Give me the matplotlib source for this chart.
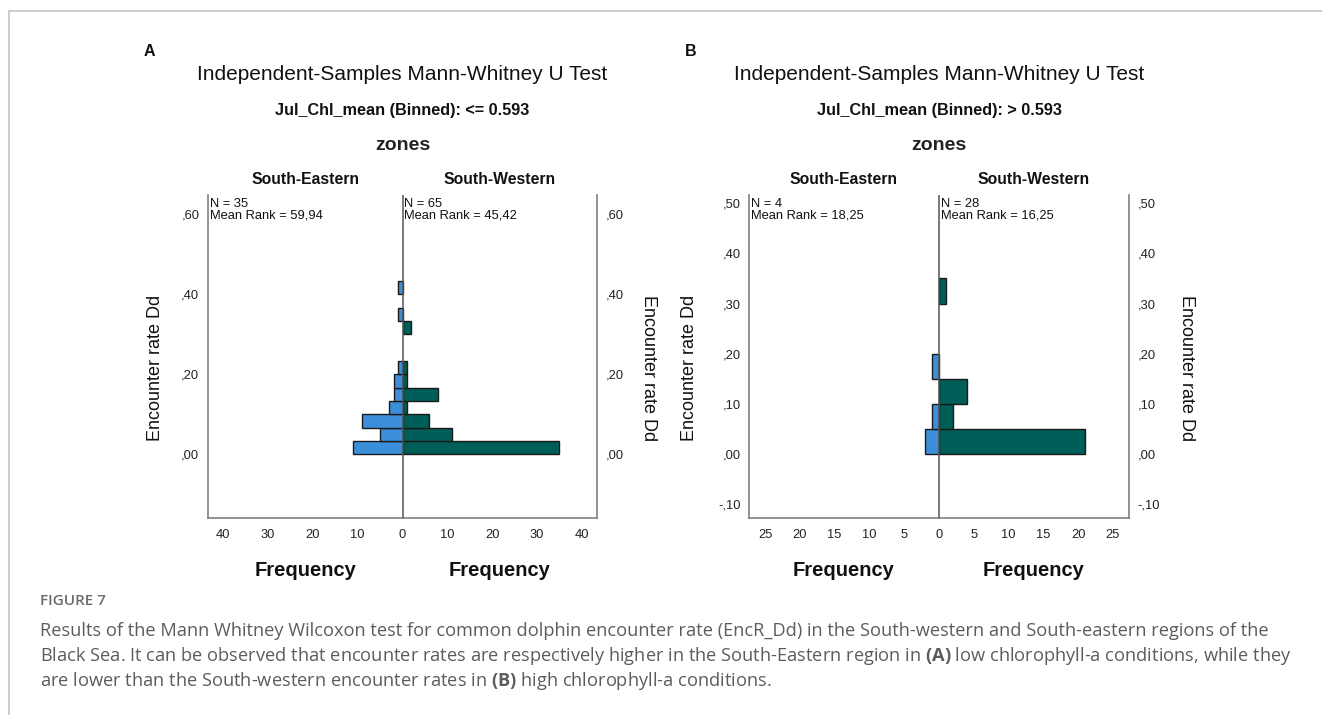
import numpy as np
import matplotlib
matplotlib.use("Agg")
import matplotlib.pyplot as plt
from matplotlib.lines import Line2D
from matplotlib.ticker import FuncFormatter

plt.rcParams['font.family'] = ['Liberation Sans', 'DejaVu Sans']
plt.rcParams['mathtext.fontset'] = 'custom'
plt.rcParams['mathtext.rm'] = 'Open Sans'
plt.rcParams['mathtext.bf'] = 'Open Sans:bold'

W, H = 1322, 715

# ---- Panel A: Jul_Chl_mean <= 0.593 (bin width 1/30) ----
bins_a = [0.000, 0.0333, 0.0667, 0.100, 0.1333, 0.1667, 0.200,
          0.2333, 0.2667, 0.300, 0.3333, 0.3667, 0.400]
width_a = 0.0333
south_eastern_a = [11, 5, 9, 3, 2, 2, 1, 0, 0, 0, 1, 0, 1]
south_western_a = [35, 11, 6, 1, 8, 1, 1, 0, 0, 2, 0, 0, 0]
yticks_a = [0.0, 0.2, 0.4, 0.6]
xticks_a = [-40, -30, -20, -10, 0, 10, 20, 30, 40]
stats_a = ("N = 35\nMean Rank = 59,94", "N = 65\nMean Rank = 45,42")
subtitle_a = "Jul_Chl_mean (Binned): <= 0.593"

# ---- Panel B: Jul_Chl_mean > 0.593 (bin width 0.05) ----
bins_b = [0.00, 0.05, 0.10, 0.15, 0.20, 0.25, 0.30]
width_b = 0.05
south_eastern_b = [2, 1, 0, 1, 0, 0, 0]
south_western_b = [21, 2, 4, 0, 0, 0, 1]
yticks_b = [-0.1, 0.0, 0.1, 0.2, 0.3, 0.4, 0.5]
xticks_b = [-25, -20, -15, -10, -5, 0, 5, 10, 15, 20, 25]
stats_b = ("N = 4\nMean Rank = 18,25", "N = 28\nMean Rank = 16,25")
subtitle_b = "Jul_Chl_mean (Binned): > 0.593"

zones = ["South-Eastern", "South-Western"]
title = "Independent-Samples Mann-Whitney U Test"
ylabel = "Encounter rate Dd"
xlabel = "Frequency"

BLUE = "#3b8fda"
GREEN = "#005e58"
SPINE = "#808080"
INK = "#111111"


def fx(x):
    return x / W


def fy(y):
    return 1 - y / H


def spss_fmt(v, pos=None):
    s = f"{abs(v):.2f}"[1:].replace(".", ",")
    return ("-" + s) if v < -1e-9 else s


fig = plt.figure(figsize=(W / 100, H / 100), dpi=100)


def panel(left_px, right_px, xlim, ylim, bins, bw, se, sw, yticks, xticks,
          stats, subtitle, letter, ylab_x):
    top_px, bot_px = 195, 518
    ax = fig.add_axes([fx(left_px), fy(bot_px), (right_px - left_px) / W,
                       (bot_px - top_px) / H])
    bins = np.asarray(bins)
    se = np.asarray(se)
    sw = np.asarray(sw)
    m = se > 0
    ax.barh(bins[m], -se[m], height=bw, align="edge", color=BLUE,
            edgecolor="#1a1a1a", linewidth=1.0, zorder=3)
    m = sw > 0
    ax.barh(bins[m], sw[m], height=bw, align="edge", color=GREEN,
            edgecolor="#1a1a1a", linewidth=1.0, zorder=3)
    ax.axvline(0, color="#555555", lw=1.1, zorder=4)
    ax.set_xlim(-xlim, xlim)
    ax.set_ylim(*ylim)
    ax.spines["top"].set_visible(False)
    for s in ("left", "right", "bottom"):
        ax.spines[s].set_color(SPINE)
        ax.spines[s].set_linewidth(1.2)
    ax.set_yticks(yticks)
    ax.yaxis.set_major_formatter(FuncFormatter(spss_fmt))
    ax.tick_params(axis="y", length=0, labelleft=True, labelright=True,
                   pad=6, labelsize=9.3, labelcolor="#222222")
    ax.set_xticks(xticks)
    ax.set_xticklabels([str(abs(t)) for t in xticks])
    ax.tick_params(axis="x", length=0, pad=8, labelsize=9.3,
                   labelcolor="#222222")

    center_px = (left_px + right_px) / 2
    lh = (left_px + center_px) / 2
    rh = (center_px + right_px) / 2

    ax.text(0.005, 0.992, stats[0], transform=ax.transAxes, ha="left",
            va="top", fontsize=9.3, linespacing=1.0, color=INK)
    ax.text(0.505, 0.992, stats[1], transform=ax.transAxes, ha="left",
            va="top", fontsize=9.3, linespacing=1.0, color=INK)

    fig.text(fx(center_px), fy(75), title, ha="center", va="center",
             fontsize=15, color=INK)
    fig.text(fx(center_px), fy(111), subtitle, ha="center", va="center",
             fontsize=11.7, fontweight="bold", color=INK)
    fig.text(fx(center_px), fy(145), "zones", ha="center", va="center",
             fontsize=14, fontweight="bold", color="#222222")
    fig.text(fx(lh), fy(180), zones[0], ha="center", va="center",
             fontsize=11.3, fontweight="bold", color=INK)
    fig.text(fx(rh), fy(180), zones[1], ha="center", va="center",
             fontsize=11.3, fontweight="bold", color=INK)
    fig.text(fx(lh), fy(571), xlabel, ha="center", va="center",
             fontsize=14.5, fontweight="bold", color=INK)
    fig.text(fx(rh), fy(571), xlabel, ha="center", va="center",
             fontsize=14.5, fontweight="bold", color=INK)
    fig.text(fx(left_px - 58), fy(52), letter, ha="center", va="center",
             fontsize=11.5, fontweight="bold", color=INK)
    fig.text(fx(ylab_x[0]), fy(368), ylabel, rotation=90, ha="center",
             va="center", fontsize=13, color=INK)
    fig.text(fx(ylab_x[1]), fy(368), ylabel, rotation=-90, ha="center",
             va="center", fontsize=13, color=INK)
    return ax


panel(207.7, 597.3, 43.45, (-0.159, 0.648), bins_a, width_a,
      south_eastern_a, south_western_a, yticks_a, xticks_a, stats_a,
      subtitle_a, "A", (155, 649))
panel(749, 1129, 27.3, (-0.127, 0.516), bins_b, width_b,
      south_eastern_b, south_western_b, yticks_b, xticks_b, stats_b,
      subtitle_b, "B", (690, 1187))

# Page frame lines
fig.add_artist(Line2D([fx(9), 1], [fy(11), fy(11)], color="#c8c8c8",
                      lw=1.3, transform=fig.transFigure))
fig.add_artist(Line2D([fx(9), fx(9)], [fy(11), 0], color="#c8c8c8",
                      lw=1.3, transform=fig.transFigure))

# Caption
cap_kw = dict(ha="left", va="center", fontsize=13.15, color="#5c5c5c",
              family=["Open Sans", "DejaVu Sans"])
fig.text(fx(40), fy(601), "FIGURE 7", ha="left", va="center", fontsize=11,
         color="#6a6a6a", family=["Open Sans", "DejaVu Sans"],
         fontweight="semibold")
caption_lines = [
    "Results of the Mann Whitney Wilcoxon test for common dolphin encounter rate (EncR_Dd) in the South-western and South-eastern regions of the",
    r"Black Sea. It can be observed that encounter rates are respectively higher in the South-Eastern region in $\bf{(A)}$ low chlorophyll-a conditions, while they",
    r"are lower than the South-western encounter rates in $\bf{(B)}$ high chlorophyll-a conditions.",
]
for i, line in enumerate(caption_lines):
    fig.text(fx(40), fy(631 + 25 * i), line, **cap_kw)

fig.savefig("out.png", dpi=100)
